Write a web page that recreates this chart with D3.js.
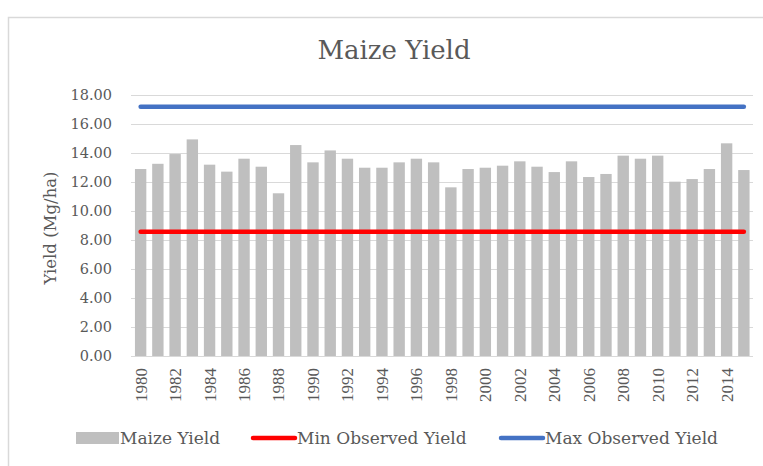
<!DOCTYPE html>
<html><head><meta charset="utf-8">
<script src="https://cdn.jsdelivr.net/npm/d3@7"></script>
<style>body{margin:0;background:#fff;} text{font-family:"DejaVu Serif",serif;fill:#595959;}</style>
</head><body><svg id="c" width="763" height="466"></svg>
<script>
const years = [1980,1981,1982,1983,1984,1985,1986,1987,1988,1989,1990,1991,1992,1993,1994,1995,1996,1997,1998,1999,2000,2001,2002,2003,2004,2005,2006,2007,2008,2009,2010,2011,2012,2013,2014,2015];
const maizeYield = [12.87,13.23,13.9,14.91,13.17,12.69,13.58,13.03,11.2,14.52,13.33,14.15,13.58,12.96,12.96,13.33,13.58,13.33,11.61,12.87,12.96,13.1,13.4,13.03,12.66,13.4,12.32,12.53,13.79,13.58,13.79,12.0,12.18,12.87,14.64,12.8];
const minObserved = 8.55;
const maxObserved = 17.16;
const yTicks = [0,2,4,6,8,10,12,14,16,18];
const xTickLabels = [1980,1982,1984,1986,1988,1990,1992,1994,1996,1998,2000,2002,2004,2006,2008,2010,2012,2014];
const title = "Maize Yield";
const yTitle = "Yield (Mg/ha)";
const legendLabels = ["Maize Yield","Min Observed Yield","Max Observed Yield"];

const svg = d3.select("#c");
svg.append("rect").attr("x",8.5).attr("y",17.5).attr("width",760).attr("height",460)
  .attr("fill","#fff").attr("stroke","#d9d9d9").attr("stroke-width",1.5);

const x = d3.scaleBand().domain(years).range([131.5,753]).paddingInner(0.34).paddingOuter(0.2);
const y = d3.scaleLinear().domain([0,18]).range([356,94.5]);

// gridlines
svg.append("g").selectAll("line").data(yTicks).join("line")
  .attr("x1",131).attr("x2",753).attr("y1",d=>Math.round(y(d))+0.5).attr("y2",d=>Math.round(y(d))+0.5)
  .attr("stroke","#d9d9d9").attr("stroke-width",1);

// y tick labels
svg.append("g").selectAll("text").data(yTicks).join("text")
  .attr("x",112).attr("y",d=>y(d)).attr("dy","0.36em").attr("text-anchor","end")
  .style("font-size","14.5px").text(d=>d.toFixed(2));

// bars
svg.append("g").selectAll("rect").data(years).join("rect")
  .attr("x",d=>x(d)).attr("width",x.bandwidth())
  .attr("y",(d,i)=>y(maizeYield[i])).attr("height",(d,i)=>y(0)-y(maizeYield[i]))
  .attr("fill","#bfbfbf");

// lines
const x0 = x(years[0])+x.bandwidth()/2, x1 = x(years[years.length-1])+x.bandwidth()/2;
[[minObserved,"#ff0000"],[maxObserved,"#4472c4"]].forEach(([v,c])=>{
  svg.append("line").attr("x1",x0).attr("x2",x1).attr("y1",y(v)).attr("y2",y(v))
    .attr("stroke",c).attr("stroke-width",4.5).attr("stroke-linecap","round");
});

// x tick labels
svg.append("g").selectAll("text").data(xTickLabels).join("text")
  .attr("transform",d=>`translate(${x(d)+x.bandwidth()/2},368) rotate(-90)`)
  .attr("dy","0.35em").attr("text-anchor","end")
  .style("font-family","'Liberation Serif',serif").style("font-size","17px").text(d=>d);

// title
svg.append("text").attr("x",394).attr("y",59).attr("text-anchor","middle")
  .style("font-size","26px").text(title);

// y title
svg.append("text").attr("transform","translate(50,228) rotate(-90)").attr("dy","0.35em")
  .attr("text-anchor","middle").style("font-size","16.5px").text(yTitle);

// legend
const lg = svg.append("g");
const fs = "17px";
lg.append("rect").attr("x",76).attr("y",432).attr("width",43).attr("height",12).attr("fill","#bfbfbf");
lg.append("text").attr("x",120).attr("y",438).attr("dy","0.36em").style("font-size",fs).text(legendLabels[0]);
lg.append("line").attr("x1",253).attr("x2",295).attr("y1",438).attr("y2",438).attr("stroke","#ff0000").attr("stroke-width",4.5).attr("stroke-linecap","round");
lg.append("text").attr("x",297).attr("y",438).attr("dy","0.36em").style("font-size",fs).text(legendLabels[1]);
lg.append("line").attr("x1",501).attr("x2",543).attr("y1",438).attr("y2",438).attr("stroke","#4472c4").attr("stroke-width",4.5).attr("stroke-linecap","round");
lg.append("text").attr("x",545).attr("y",438).attr("dy","0.36em").style("font-size",fs).text(legendLabels[2]);
</script></body></html>
